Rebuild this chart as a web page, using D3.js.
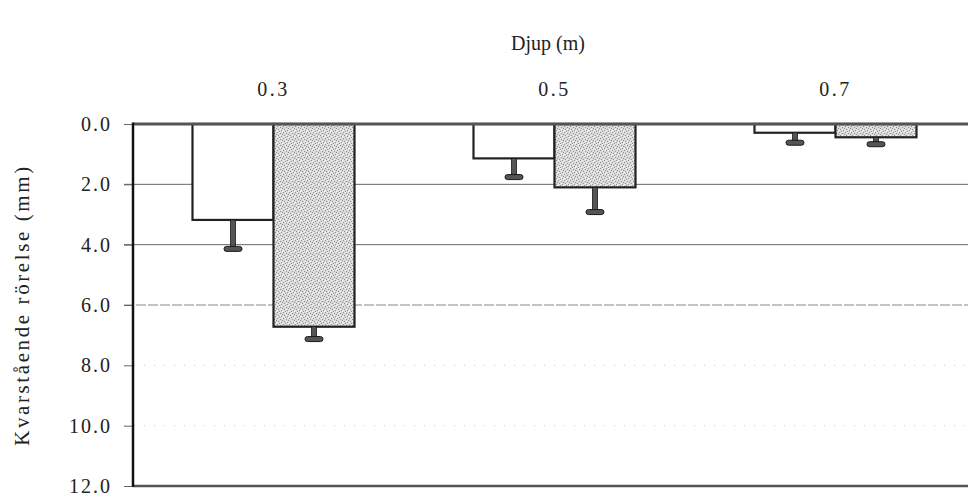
<!DOCTYPE html>
<html>
<head>
<meta charset="utf-8">
<script src="https://cdn.jsdelivr.net/npm/d3@7"></script>
<style>
  html, body { margin: 0; padding: 0; background: #fff; }
  svg { display: block; }
  text { font-family: "Liberation Serif", "Times New Roman", serif; fill: #222; }
</style>
</head>
<body>
<svg id="chart" width="968" height="502"></svg>
<script>
// Depth categories (m)
const categories = ["0.3", "0.5", "0.7"];
const seriesNames = ["A", "B"];
// Residual movement (mm), mean per depth
const valuesA = [3.18, 1.14, 0.29];
const valuesB = [6.72, 2.10, 0.44];
// Error (one-sided, downwards) per depth
const errorsA = [0.96, 0.62, 0.33];
const errorsB = [0.41, 0.82, 0.23];
// Value axis ticks
const yTicks = [0, 2, 4, 6, 8, 10, 12];

const svg = d3.select("#chart");
const plotLeft = 133, plotRight = 976, plotTop = 124, plotBottom = 486;

const x0 = d3.scaleBand().domain(categories).range([plotLeft, plotRight]).padding(0);
const x1 = d3.scaleBand().domain(seriesNames)
  .range([0, x0.bandwidth()]).paddingInner(0).paddingOuter(0.7346);
const y = d3.scaleLinear().domain([0, 12]).range([plotTop, plotBottom]);

// Stipple pattern for the second series
const defs = svg.append("defs");
const pat = defs.append("pattern").attr("id", "stipple")
  .attr("patternUnits", "userSpaceOnUse").attr("width", 6).attr("height", 6);
pat.append("rect").attr("width", 6).attr("height", 6).attr("fill", "#dadada");
[[0,0],[3,1],[1,3],[4,4],[2,5],[5,2]].forEach(([px, py]) =>
  pat.append("rect").attr("x", px).attr("y", py).attr("width", 1).attr("height", 1).attr("fill", "#909090"));
[[2,0],[5,5],[0,4],[3,3]].forEach(([px, py]) =>
  pat.append("rect").attr("x", px).attr("y", py).attr("width", 1).attr("height", 1).attr("fill", "#f6f6f6"));

// Gridlines
const gridVals = yTicks.filter(v => v > 0 && v < 12);
svg.append("g").selectAll("line").data(gridVals).join("line")
  .attr("x1", plotLeft - 9).attr("x2", 968)
  .attr("y1", d => y(d)).attr("y2", d => y(d))
  .attr("stroke", d => d <= 4 ? "#666" : (d === 6 ? "#888" : "#c8c8c8"))
  .attr("stroke-width", 1)
  .attr("stroke-dasharray", d => d <= 4 ? null : (d === 6 ? "10,2" : "1,9"));

// Value axis labels
const yAxis = d3.axisLeft(y).tickValues(yTicks).tickFormat(d3.format(".1f")).tickSize(9).tickPadding(14);
const gy = svg.append("g").attr("transform", `translate(${plotLeft},0)`).call(yAxis);
gy.select(".domain").remove();
gy.selectAll(".tick line").attr("stroke", "#666");
gy.selectAll(".tick text")
  .style("font-family", "'Liberation Serif', serif")
  .style("font-size", "20px").style("letter-spacing", "2px").attr("fill", "#222").attr("dx", "2");

// Bars
const rows = categories.map((c, i) => ({
  cat: c,
  items: [
    { s: "A", v: valuesA[i], e: errorsA[i] },
    { s: "B", v: valuesB[i], e: errorsB[i] }
  ]
}));
const groups = svg.append("g").selectAll("g").data(rows).join("g")
  .attr("transform", d => `translate(${x0(d.cat)},0)`);

groups.selectAll("rect.bar").data(d => d.items).join("rect")
  .attr("class", "bar")
  .attr("x", d => x1(d.s)).attr("width", x1.bandwidth())
  .attr("y", y(0)).attr("height", d => y(d.v) - y(0))
  .attr("fill", d => d.s === "A" ? "#fff" : "url(#stipple)")
  .attr("stroke", "#222").attr("stroke-width", 2.2);

// Error bars (downwards)
const eg = groups.selectAll("g.err").data(d => d.items).join("g").attr("class", "err");
eg.append("rect")
  .attr("x", d => x1(d.s) + x1.bandwidth() / 2 - 2.5)
  .attr("width", 5)
  .attr("y", d => y(d.v))
  .attr("height", d => y(d.v + d.e) - y(d.v))
  .attr("fill", "#555").attr("stroke", "#1a1a1a").attr("stroke-width", 0.8);
eg.append("rect")
  .attr("x", d => x1(d.s) + x1.bandwidth() / 2 - 9)
  .attr("width", 18)
  .attr("y", d => y(d.v + d.e) - 2.5)
  .attr("height", 5).attr("rx", 2.5)
  .attr("fill", "#555").attr("stroke", "#1a1a1a").attr("stroke-width", 1);

// Frame lines
svg.append("line").attr("x1", plotLeft).attr("x2", 968).attr("y1", y(0)).attr("y2", y(0))
  .attr("stroke", "#555").attr("stroke-width", 3);
svg.append("line").attr("x1", plotLeft).attr("x2", 968).attr("y1", y(12)).attr("y2", y(12))
  .attr("stroke", "#555").attr("stroke-width", 2.5);
svg.append("line").attr("x1", plotLeft).attr("x2", plotLeft).attr("y1", y(0) - 1.5).attr("y2", y(12) + 1)
  .attr("stroke", "#111").attr("stroke-width", 2.5);

// Category axis on top
const xAxis = d3.axisTop(x0).tickSize(0).tickPadding(0);
const gx = svg.append("g").attr("transform", "translate(0,96)").call(xAxis);
gx.select(".domain").remove();
gx.selectAll(".tick text")
  .style("font-family", "'Liberation Serif', serif")
  .style("font-size", "20px").style("letter-spacing", "2.5px").attr("fill", "#222").attr("dy", 0);

// Titles
svg.append("text").attr("x", 548).attr("y", 50).attr("text-anchor", "middle")
  .style("font-size", "20px").text("Djup (m)");
svg.append("text")
  .attr("transform", `translate(29,${(plotTop + plotBottom) / 2}) rotate(-90)`)
  .attr("text-anchor", "middle")
  .style("font-size", "21px").style("letter-spacing", "2.6px")
  .text("Kvarstående rörelse (mm)");
</script>
</body>
</html>
